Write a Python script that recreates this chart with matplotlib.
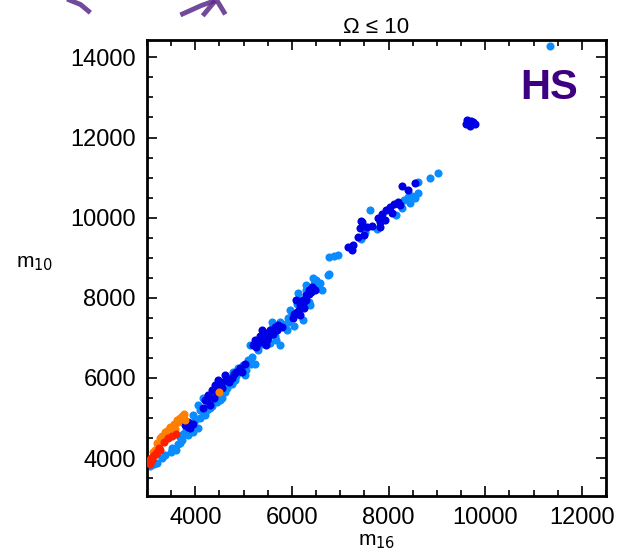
import matplotlib
matplotlib.use("Agg")
import matplotlib.pyplot as plt
from matplotlib.ticker import MultipleLocator
from matplotlib.lines import Line2D

plt.rcParams['font.family'] = ['Liberation Sans', 'DejaVu Sans']

# ---- data (m16, m10) ----
red_m16 = [3028, 3090, 3152, 3214, 3069, 3276, 3442, 3524, 3607, 3359, 3110, 3250, 3050, 3180]
red_m10 = [3900, 4000, 4075, 4150, 3850, 4200, 4499, 4549, 4599, 4399, 3950, 4250, 3960, 4100]

orange_m16 = [3173, 3235, 3297, 3338, 3380, 3442, 3504, 3566, 3648, 3690, 3752, 3793,
              3276, 3421, 3586, 3131, 4496, 3320, 3470, 3620, 3720, 3200, 3400, 3550,
              3660, 3760]
orange_m10 = [4200, 4324, 4399, 4499, 4648, 4698, 4748, 4823, 4898, 4998, 5022, 4948,
              4499, 4624, 4723, 4150, 5646, 4560, 4780, 4950, 5060, 4380, 4560, 4860,
              4980, 5100]

light_m16 = [3069, 3214, 3380, 3524, 3648, 3731, 3607, 3814, 3897, 4000, 3959, 4103,
             4062, 4207, 4269, 4352, 4414, 4620, 4682, 4724, 4786, 4889, 4993, 5096,
             5179, 5241, 5034, 4827, 4517, 4165, 3855, 3690,
             4100, 4150, 4250, 4350, 4400, 4500, 4550, 4650, 4750, 4850, 4900, 5050,
             5150, 3950, 4050, 3750, 3850, 3680, 3500, 3300, 3150,
             5861, 5903, 5758, 5551, 5676, 5924, 5593, 5138, 5450, 5300,
             5380, 5600, 5750, 5800, 5650,
             5965, 5924, 6234, 6379, 6503, 6585, 6441, 6296, 6131, 6627, 6751, 6050, 6180,
             6000, 6100, 6350, 6450, 6550, 6300,
             6772, 6772, 6875, 6958, 7433, 7763, 7619, 7520,
             8322, 8405, 8446, 8281, 8157, 8488, 8612, 8612, 8860, 9025, 8540,
             11341, 4450, 4580, 4300, 5000, 4760]
light_m10 = [3800, 3875, 4075, 4249, 4349, 4449, 4200, 4698, 4823, 4948, 5072, 5197,
             5322, 5072, 5322, 5447, 5571, 5646, 5820, 5995, 6145, 6245, 6319, 6444,
             6519, 6344, 6070, 5945, 5447, 5496, 4574, 4524,
             5000, 5150, 5200, 5300, 5450, 5550, 5500, 5750, 5850, 6050, 6150, 6200,
             6350, 4650, 4750, 4600, 4850, 4380, 4150, 4000, 3850,
             7317, 7192, 6818, 6868, 6943, 7392, 7392, 6818, 7000, 6700,
             6850, 7300, 7400, 7350, 7050,
             7691, 7492, 7442, 7816, 8440, 8365, 8489, 8315, 8115, 8190, 8564, 7300, 7950,
             7600, 7850, 7900, 8350, 8250, 8200,
             8589, 9013, 9038, 9063, 9463, 9711, 10185, 9650,
             10435, 10509, 10360, 10235, 10060, 10534, 10884, 10609, 10983, 11108, 10480,
             14275, 5400, 5750, 5250, 6200, 5880]

dark_m16 = [3793, 3897, 3855, 4207, 4269, 4352, 4414, 4476, 4558, 4310, 4620, 4931,
            5034, 4972, 5200, 5303, 5407, 5469, 5262,
            4150, 4250, 4380, 4450, 4500, 4560, 4650, 4750, 4800, 3950, 3850,
            5241, 5344, 5448, 5551, 5655, 5717, 5799, 5510, 5386,
            5280, 5350, 5600, 5700, 5480,
            6027, 6110, 6172, 6234, 6296, 6359, 6420, 6482, 6172, 6089, 6255,
            6050, 6150, 6200, 6300, 6350, 6400, 6230,
            7164, 7247, 7268, 7371, 7495, 7412, 7557, 7660, 7826, 7454, 7433,
            7784, 7867, 7950, 8033, 8115, 8198, 7929, 8074, 8239, 7826,
            8281, 8405, 8550,
            9600, 9650, 9700, 9750, 9680, 9780, 9620, 4700, 4850]
dark_m10 = [4823, 4748, 4898, 5447, 5571, 5696, 5820, 5945, 5746, 5322, 6070, 6245,
            6344, 6145, 6818, 6868, 6893, 6818, 6768,
            5250, 5450, 5500, 5650, 5850, 5900, 5950, 6000, 6100, 4850, 4780,
            6943, 7043, 7118, 7192, 7267, 7317, 7267, 7018, 7192,
            6900, 6950, 7100, 7200, 6950,
            7492, 7641, 7816, 7941, 8065, 8190, 8265, 8190, 7566, 7941, 7741,
            7600, 7700, 7900, 7950, 8100, 8150, 7850,
            9263, 9188, 9313, 9512, 9562, 9736, 9761, 9786, 9761, 9886, 9910,
            9986, 10085, 10185, 10260, 10335, 10385, 9936, 10110, 10310, 9886,
            10784, 10684, 10859,
            12350, 12420, 12400, 12380, 12300, 12330, 12440, 5900, 6150]

x_ticks = [4000, 6000, 8000, 10000, 12000]
y_ticks = [4000, 6000, 8000, 10000, 12000, 14000]

fig = plt.figure(figsize=(6.19, 5.58), dpi=100)
ax = fig.add_axes([0.2375, 0.111, 0.7415, 0.817])

ms = 34
ax.scatter(light_m16, light_m10, s=ms, c='#0a8cff', linewidths=0, zorder=2)
ax.scatter(dark_m16, dark_m10, s=ms, c='#0000e6', linewidths=0, zorder=3)
ax.scatter(orange_m16, orange_m10, s=ms, c='#ff8000', linewidths=0, zorder=4)
ax.scatter(red_m16, red_m10, s=ms, c='#ff2000', linewidths=0, zorder=5)

ax.set_xlim(3000, 12500)
ax.set_ylim(3050, 14430)
ax.set_xticks(x_ticks)
ax.set_yticks(y_ticks)
ax.xaxis.set_minor_locator(MultipleLocator(500))
ax.yaxis.set_minor_locator(MultipleLocator(500))
ax.tick_params(which='both', direction='in', top=True, right=True, width=1.2)
ax.tick_params(which='major', length=7, labelsize=17, pad=8)
ax.tick_params(which='minor', length=4)
for sp in ax.spines.values():
    sp.set_linewidth(2)

ax.set_title('Ω ≤ 10', fontsize=16, pad=5)
ax.set_xlabel(r'm$_{16}$', fontsize=15, labelpad=2)
ax.set_ylabel(r'm$_{10}$', fontsize=15, rotation=0)
ax.yaxis.set_label_coords(-0.245, 0.49)

ax.text(0.875, 0.895, 'HS', transform=ax.transAxes, fontsize=30, fontweight='bold',
        color='#3c0080', ha='center', va='center')

# decorative purple fragments at the top edge
for xs, ys in [([0.112, 0.130, 0.143], [1.0, 0.992, 0.98]),
               ([0.295, 0.325, 0.350, 0.362], [0.975, 0.99, 1.0, 0.978]),
               ([0.33, 0.345], [0.975, 0.995])]:
    fig.add_artist(Line2D(xs, ys, color='#5a2a8a', lw=3.5, alpha=0.85,
                          transform=fig.transFigure))

fig.savefig('out.png', dpi=100)
